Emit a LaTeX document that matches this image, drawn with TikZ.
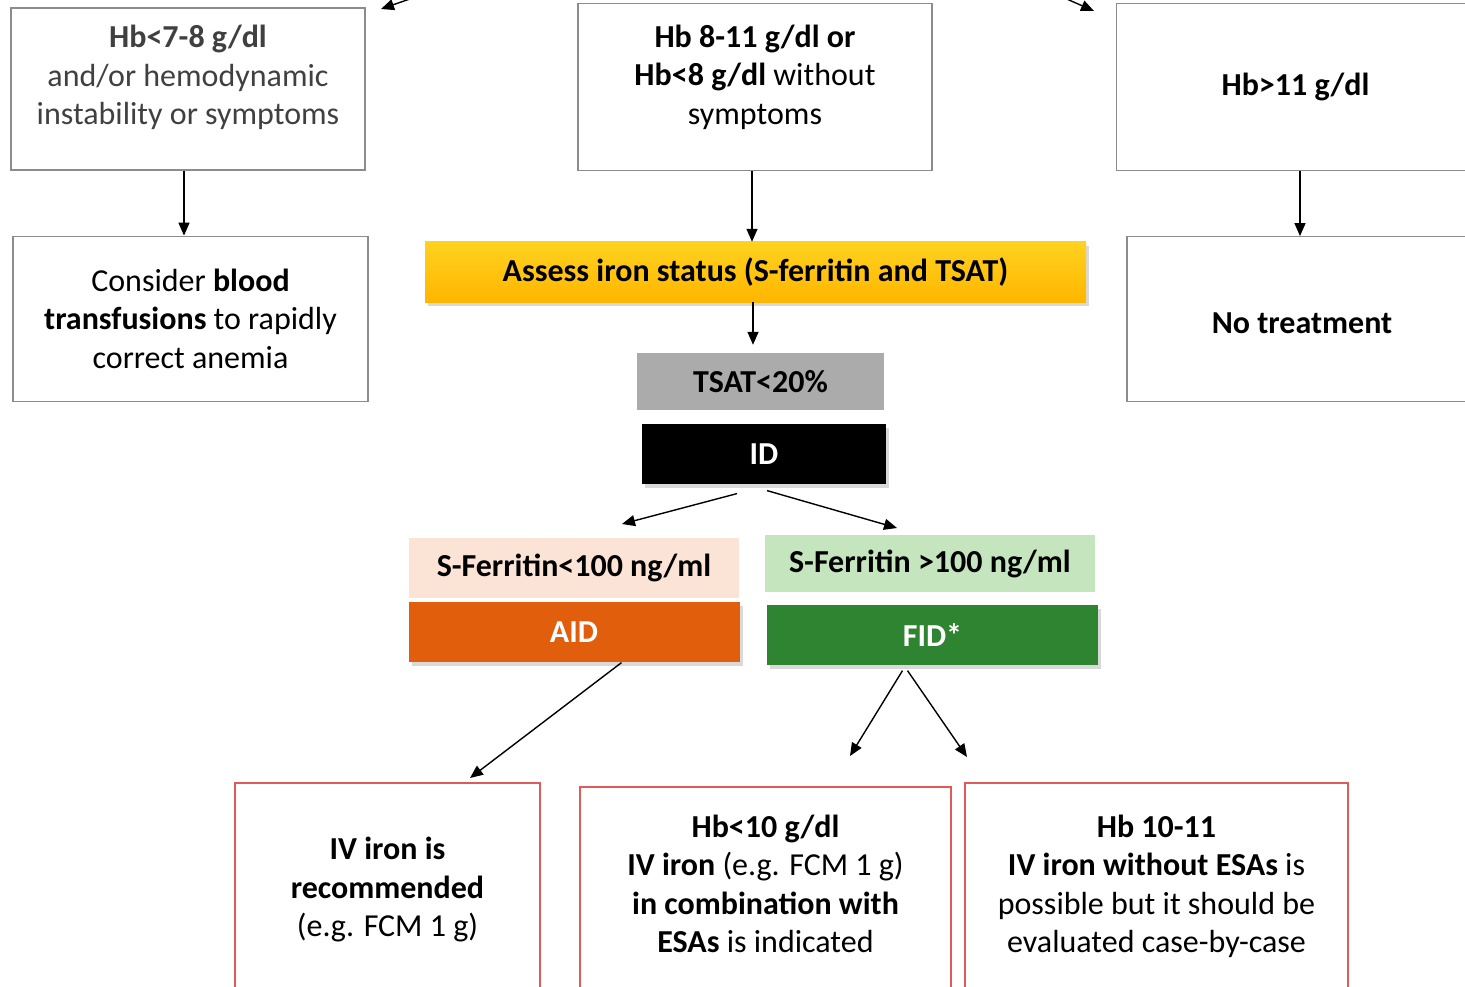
\documentclass[tikz,border=0pt]{standalone}
\usepackage{fontspec}
\setmainfont{Carlito}
\usepackage{tikz}
\usetikzlibrary{arrows.meta,positioning,shadows}

\definecolor{boxgray}{HTML}{8C8C8C}
\definecolor{txtgray}{HTML}{404040}
\definecolor{goldtop}{HTML}{FFD21F}
\definecolor{goldbot}{HTML}{FFB600}
\definecolor{tsatgray}{HTML}{ABABAB}
\definecolor{peach}{HTML}{FBE3D6}
\definecolor{aidorange}{HTML}{E05E0C}
\definecolor{mint}{HTML}{C4E5BE}
\definecolor{fidgreen}{HTML}{2E8431}
\definecolor{redline}{HTML}{E05A5A}
\newcommand{\diagfont}{\fontsize{32}{38.5}\selectfont}

\begin{document}
\begin{tikzpicture}[
  x=1pt, y=-1pt,
  box/.style={draw=boxgray, line width=1.2pt, align=center, font=\diagfont, inner sep=0pt},
  redbox/.style={box, draw=redline},
  bar/.style={align=center, font=\diagfont\bfseries, inner sep=0pt, minimum height=60pt},
  shade/.style={drop shadow={shadow xshift=3pt, shadow yshift=-4pt, opacity=0.3}},
  >={Stealth[length=13pt, width=11pt, inset=0pt]}
]
  \clip (0,0) rectangle (1465,987);

  % first row
  \node[box, text=txtgray, text depth=28pt, minimum width=354pt, minimum height=162pt] (hbLow) at (188,89)
    {\textbf{Hb<7-8 g/dl}\\and/or hemodynamic\\instability or symptoms};
  \node[box, text depth=25pt, minimum width=354pt, minimum height=167pt] (hbMid) at (755,87)
    {\textbf{Hb 8-11 g/dl or}\\\textbf{Hb<8 g/dl} without\\symptoms};
  \node[box, minimum width=358pt, minimum height=167pt] (hbHigh) at (1295.5,87)
    {\textbf{Hb>11 g/dl}};

  % second row
  \node[box, minimum width=355pt, minimum height=165pt, below=65pt of hbLow, xshift=2.5pt] (transfuse)
    {Consider \textbf{blood}\\\textbf{transfusions} to rapidly\\correct anemia};
  \node[box, text height=28pt, minimum width=350pt, minimum height=165pt, below=65pt of hbHigh, xshift=6.5pt] (noTreat)
    {\textbf{No treatment}};
  \node[bar, shade, top color=goldtop, bottom color=goldbot, minimum width=661pt] (assess) at (755.5,272)
    {Assess iron status (S-ferritin and TSAT)};

  % iron deficiency
  \node[bar, fill=tsatgray, minimum width=247pt, minimum height=57pt] (tsat) at (760.5,381.5) {TSAT<20\%};
  \node[bar, shade, fill=black, text=white, minimum width=244pt, below=14pt of tsat, xshift=3.5pt] (id) {ID};
  \node[bar, fill=peach, minimum width=330pt] (ferLow) at (574,568) {S-Ferritin<100 ng/ml};
  \node[bar, shade, fill=aidorange, text=white, minimum width=331pt, below=4pt of ferLow] (aid) {AID};
  \node[bar, fill=mint, minimum width=330pt, minimum height=57pt] (ferHigh) at (930,563.5) {S-Ferritin >100 ng/ml};
  \node[bar, shade, fill=fidgreen, text=white, minimum width=331pt, below=13pt of ferHigh, xshift=2.5pt] (fid) {FID*};

  % treatment
  \node[redbox, minimum width=305pt, minimum height=214pt] (ivRec) at (387.5,890)
    {\textbf{IV iron is}\\\textbf{recommended}\\(e.g. FCM 1 g)};
  \node[redbox, text depth=9pt, minimum width=371pt, minimum height=203pt] (ivEsa) at (765.5,888.5)
    {\textbf{Hb<10 g/dl}\\\textbf{IV iron} (e.g. FCM 1 g)\\\textbf{in combination with}\\\textbf{ESAs} is indicated};
  \node[redbox, minimum width=383pt, minimum height=207pt] (ivCase) at (1156.5,886.5)
    {\textbf{Hb 10-11}\\\textbf{IV iron without ESAs} is\\possible but it should be\\evaluated case-by-case};

  % free arrow ends
  \coordinate (fromL) at (450,-15);
  \coordinate (tipL) at (381,9);
  \coordinate (fromR) at (1035,-15);
  \coordinate (tipR) at (1094,11);
  \coordinate (tipFerLow) at (622,524);
  \coordinate (tipFerHigh) at (897,528);
  \coordinate (tipRec) at (470,778);
  \coordinate (tipEsa) at (850,756);
  \coordinate (tipCase) at (967,757);

  \begin{scope}[line width=1.4pt]
    \draw[->] (fromL) -- (tipL);
    \draw[->] (fromR) -- (tipR);
    \draw[->] ([xshift=-4pt]hbLow.south) -- ([xshift=-4pt]hbLow.south |- transfuse.north);
    \draw[->] ([xshift=-3pt]hbMid.south) -- ([xshift=-3pt]hbMid.south |- assess.north);
    \draw[->] ([xshift=4.5pt]hbHigh.south) -- ([xshift=4.5pt]hbHigh.south |- noTreat.north);
    \draw[->, shorten >=8pt] ([xshift=-2.5pt]assess.south) -- ([xshift=-2.5pt]assess.south |- tsat.north);
    \draw[->] ([xshift=-27pt, yshift=-9pt]id.south) -- (tipFerLow);
    \draw[->] ([xshift=3pt, yshift=-6pt]id.south) -- (tipFerHigh);
    \draw[->] ([xshift=47.5pt]aid.south) -- (tipRec);
    \draw[->] ([xshift=-30pt, yshift=-5pt]fid.south) -- (tipEsa);
    \draw[->] ([xshift=-25pt, yshift=-5pt]fid.south) -- (tipCase);
  \end{scope}
\end{tikzpicture}
\end{document}
